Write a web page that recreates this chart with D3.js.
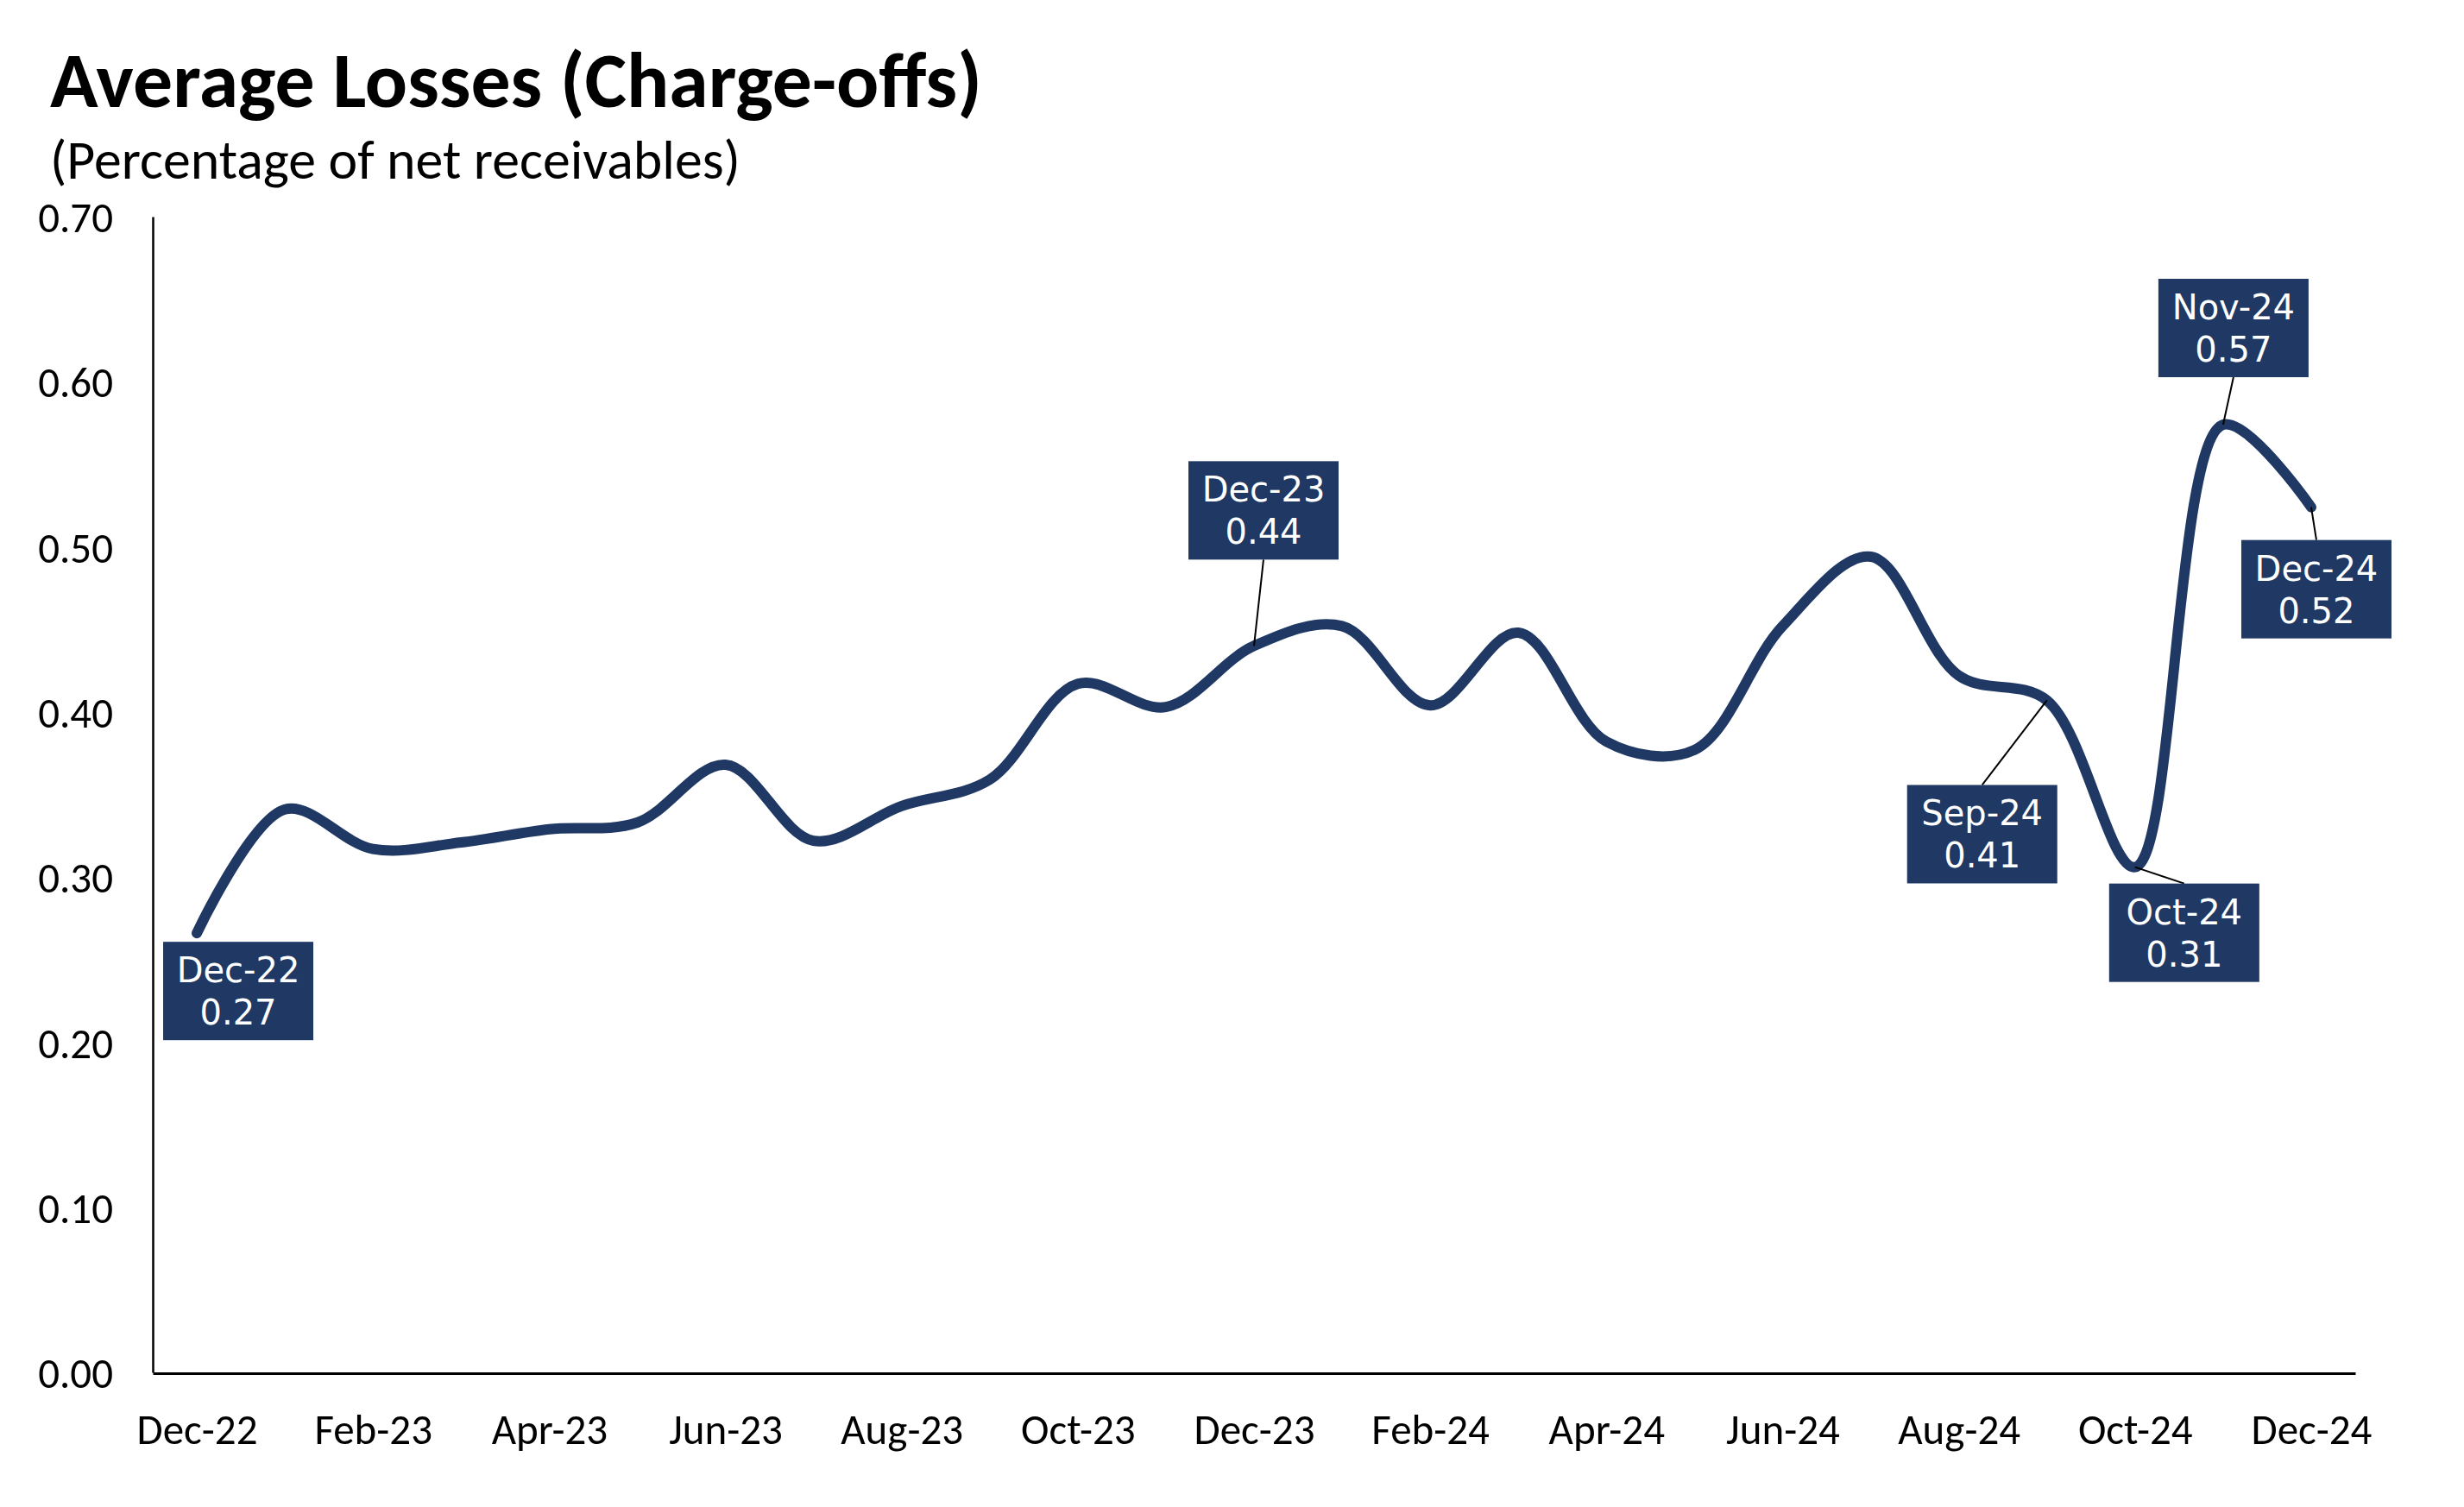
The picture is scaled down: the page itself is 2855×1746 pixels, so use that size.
<!DOCTYPE html>
<html><head><meta charset="utf-8">
<script src="https://cdn.jsdelivr.net/npm/d3@7"></script>
<style>body{margin:0;background:#fff} svg{display:block}</style>
</head><body>
<svg id="chart" width="2855" height="1746"></svg>
<script>
// ---- data ----
const months = ["Dec-22","Jan-23","Feb-23","Mar-23","Apr-23","May-23","Jun-23","Jul-23","Aug-23","Sep-23","Oct-23","Nov-23",
  "Dec-23","Jan-24","Feb-24","Mar-24","Apr-24","May-24","Jun-24","Jul-24","Aug-24","Sep-24","Oct-24","Nov-24","Dec-24"];
const values = [0.266,0.341,0.317,0.321,0.329,0.333,0.368,0.322,0.343,0.359,0.417,0.403,
  0.440,0.452,0.404,0.448,0.382,0.377,0.452,0.494,0.422,0.407,0.306,0.574,0.524];
const xTickLabels = ["Dec-22","Feb-23","Apr-23","Jun-23","Aug-23","Oct-23","Dec-23","Feb-24","Apr-24","Jun-24","Aug-24","Oct-24","Dec-24"];
const yTickValues = [0,0.1,0.2,0.3,0.4,0.5,0.6,0.7];
const labelledMonths = ["Dec-22","Dec-23","Sep-24","Oct-24","Nov-24","Dec-24"];
const titleText = "Average Losses (Charge-offs)";
const subtitleText = "(Percentage of net receivables)";

// ---- layout (label box offsets relative to the point) ----
const labelLayout = {
  "Dec-22": {dx: 48, dy: 67, leader: false},
  "Dec-23": {dx: 11, dy: -157, leader: true},
  "Sep-24": {dx: -75, dy: 155, leader: true},
  "Oct-24": {dx: 57, dy: 76, leader: true},
  "Nov-24": {dx: 12, dy: -112, leader: true},
  "Dec-24": {dx: 6, dy: 95, leader: true}
};
const NAVY = "#1F3864";
const CAL = "Carlito, Lato, sans-serif";

const svg = d3.select("#chart");
const x = d3.scalePoint().domain(months).range([177, 2729]).padding(0.5);
const y = d3.scaleLinear().domain([0, 0.7]).range([1590, 251]);

function fit(sel, target) {
  const fs = parseFloat(sel.attr("font-size"));
  const len = sel.node().getComputedTextLength();
  sel.attr("font-size", fs * target / len);
}

// title
const t = svg.append("text").attr("x", 58).attr("y", 124).attr("font-family", CAL)
  .attr("font-weight", 700).attr("font-size", 80).attr("fill", "#000").text(titleText);
fit(t, 1080);
const st = svg.append("text").attr("x", 58).attr("y", 207).attr("font-family", CAL)
  .attr("font-size", 56).attr("fill", "#000").text(subtitleText);
fit(st, 800);

// y axis
const yAxis = svg.append("g").attr("transform", "translate(177,0)")
  .call(d3.axisLeft(y).tickValues(yTickValues).tickFormat(d3.format(".2f")).tickSize(0).tickSizeOuter(0).tickPadding(46));
yAxis.select(".domain").attr("stroke", "#000").attr("stroke-width", 2.5);
yAxis.selectAll("text").attr("font-family", CAL).attr("font-size", 49).attr("fill", "#000").attr("dy", "0.36em");

// x axis
const xAxis = svg.append("g").attr("transform", "translate(0,1591)")
  .call(d3.axisBottom(x).tickValues(xTickLabels).tickSize(0).tickSizeOuter(0).tickPadding(0));
xAxis.select(".domain").attr("stroke", "#000").attr("stroke-width", 3);
xAxis.selectAll("text").attr("font-family", CAL).attr("font-size", 49).attr("fill", "#000")
  .attr("y", 82).attr("dy", 0);

// line
const line = d3.line().x((d, i) => x(months[i])).y(d => y(d)).curve(d3.curveCatmullRom.alpha(0.5));
svg.append("path").datum(values).attr("d", line).attr("fill", "none")
  .attr("stroke", NAVY).attr("stroke-width", 12).attr("stroke-linecap", "round").attr("stroke-linejoin", "round");

// labels
const BW = 174, BH = 114;
const fmt = d3.format(".2f");
labelledMonths.forEach(m => {
  const i = months.indexOf(m);
  const px = x(m), py = y(values[i]);
  const L = labelLayout[m];
  const cx = px + L.dx, cy = py + L.dy;
  if (L.leader) {
    const ey = L.dy < 0 ? cy + BH / 2 : cy - BH / 2;
    svg.append("line").attr("x1", cx).attr("y1", ey).attr("x2", px).attr("y2", py)
      .attr("stroke", "#000").attr("stroke-width", 2);
  }
  const g = svg.append("g");
  g.append("rect").attr("x", cx - BW / 2).attr("y", cy - BH / 2).attr("width", BW).attr("height", BH).attr("fill", NAVY);
  g.append("text").attr("x", cx).attr("y", cy - 24.5).attr("dy", "0.36em").attr("text-anchor", "middle")
    .attr("font-family", "DejaVu Sans").attr("font-size", 40).attr("fill", "#fff").text(m);
  g.append("text").attr("x", cx).attr("y", cy + 24.5).attr("dy", "0.36em").attr("text-anchor", "middle")
    .attr("font-family", "DejaVu Sans").attr("font-size", 40).attr("fill", "#fff").text(fmt(values[i]));
});
</script>
</body></html>
